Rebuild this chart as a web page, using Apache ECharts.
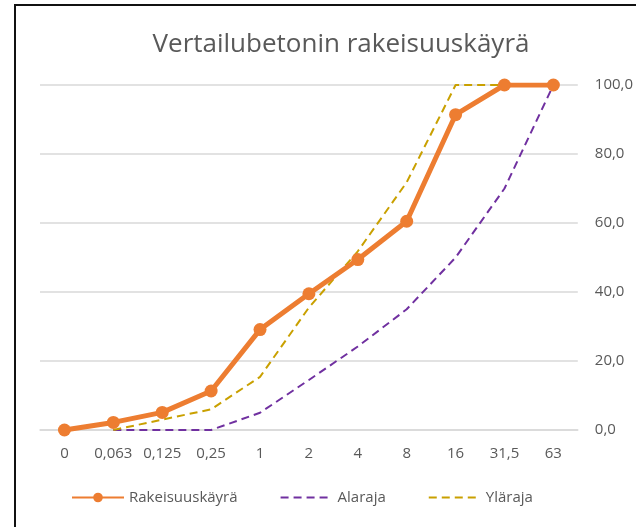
<!DOCTYPE html>
<html lang="fi">
<head>
  <meta charset="UTF-8">
  <title>Vertailubetonin rakeisuuskäyrä</title>
  <script src="https://cdn.jsdelivr.net/npm/echarts@6/dist/echarts.min.js"></script>
  <style>
    html, body { margin: 0; padding: 0; background: #fff; }
    #chart { width: 636px; height: 527px; }
  </style>
</head>
<body>
  <div id="chart"></div>
  <script>
    // seulakoot (mm)
    const categories = ['0', '0,063', '0,125', '0,25', '1', '2', '4', '8', '16', '31,5', '63'];
    const rakeisuus = [0, 2.2, 5.1, 11.3, 29.1, 39.5, 49.4, 60.5, 91.4, 100, 100];
    const alaraja = [null, 0, 0, 0, 5, 14.5, 24.2, 35, 50, 70, 100];
    const ylaraja = [null, 0, 3, 6, 15.4, 35.5, 51.8, 71.8, 100, 100, 100];

    const chart = echarts.init(document.getElementById('chart'));
    const font = '"Open Sans", "Noto Sans", sans-serif';

    chart.setOption({
      backgroundColor: '#fff',
      textStyle: { fontFamily: font },
      title: {
        text: 'Vertailubetonin rakeisuuskäyrä',
        left: 336, top: 27, textAlign: 'center',
        textStyle: { fontSize: 26, fontWeight: 'normal', color: '#595959', fontFamily: font }
      },
      graphic: [{
        type: 'rect', silent: true,
        shape: { x: 15, y: 5, width: 700, height: 600 },
        style: { fill: 'none', stroke: '#111', lineWidth: 2 }
      }],
      grid: { left: 40, right: 58, top: 85, bottom: 97 },
      legend: {
        bottom: 17, left: 66, itemGap: 42, itemWidth: 52, itemHeight: 12,
        textStyle: { color: '#595959', fontSize: 15, fontFamily: font },
        data: [
          { name: 'Rakeisuuskäyrä' },
          { name: 'Alaraja', itemStyle: { opacity: 0 } },
          { name: 'Yläraja', itemStyle: { opacity: 0 } }
        ]
      },
      xAxis: {
        type: 'category', data: categories, boundaryGap: true,
        axisLine: { lineStyle: { color: '#d9d9d9', width: 1.5 } },
        axisTick: { show: false },
        axisLabel: { color: '#595959', fontSize: 15, margin: 16, interval: 0 }
      },
      yAxis: {
        type: 'value', position: 'right', min: 0, max: 100, interval: 20,
        axisLine: { show: false }, axisTick: { show: false },
        splitLine: { lineStyle: { color: '#d9d9d9', width: 1.5 } },
        axisLabel: {
          color: '#595959', fontSize: 15, margin: 17,
          formatter: v => v.toFixed(1).replace('.', ',')
        }
      },
      series: [
        {
          name: 'Alaraja', type: 'line', data: alaraja,
          showSymbol: false, symbol: 'none',
          lineStyle: { color: '#7030a0', width: 2, type: [8, 5] },
          itemStyle: { color: '#7030a0' }
        },
        {
          name: 'Yläraja', type: 'line', data: ylaraja,
          showSymbol: false, symbol: 'none',
          lineStyle: { color: '#c9a000', width: 2, type: [8, 5] },
          itemStyle: { color: '#c9a000' }
        },
        {
          name: 'Rakeisuuskäyrä', type: 'line', data: rakeisuus, z: 3,
          symbol: 'circle', symbolSize: 13,
          lineStyle: { color: '#ed7d31', width: 5 },
          itemStyle: { color: '#ed7d31' }
        }
      ]
    });
  </script>
</body>
</html>
